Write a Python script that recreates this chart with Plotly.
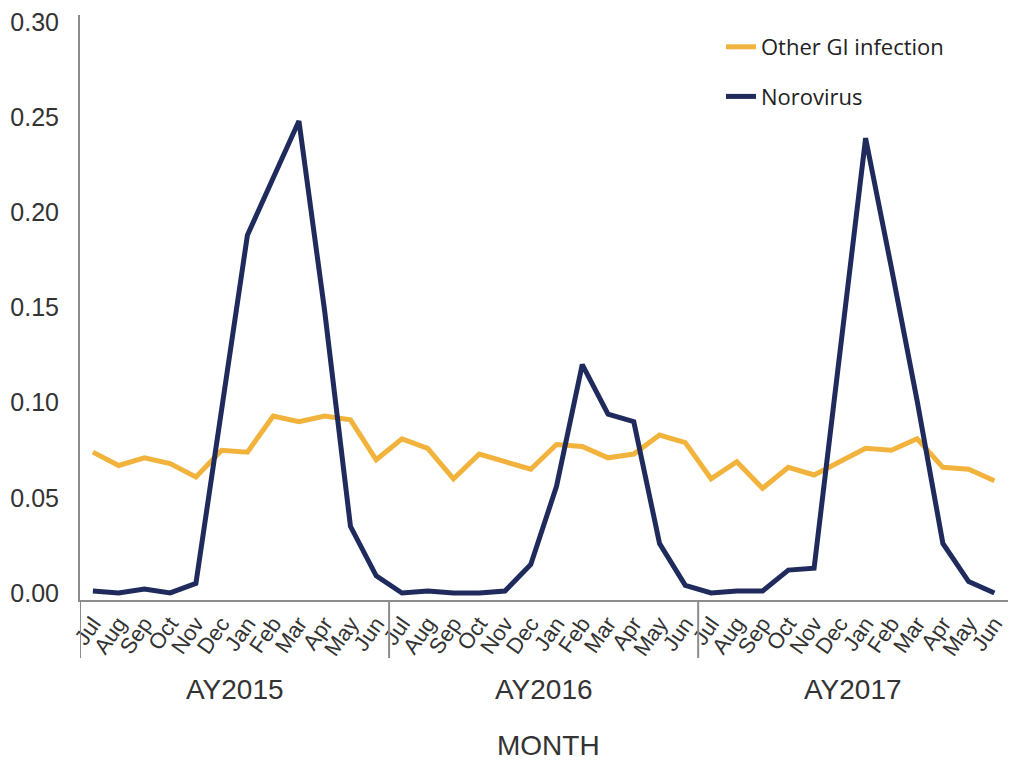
import plotly.graph_objects as go

months = ["Jul", "Aug", "Sep", "Oct", "Nov", "Dec", "Jan", "Feb", "Mar", "Apr", "May", "Jun"]
years = ["AY2015", "AY2016", "AY2017"]

other_gi = [
    0.074, 0.067, 0.071, 0.068, 0.061, 0.075, 0.074, 0.093, 0.090, 0.093, 0.091, 0.070,
    0.081, 0.076, 0.060, 0.073, 0.069, 0.065, 0.078, 0.077, 0.071, 0.073, 0.083, 0.079,
    0.060, 0.069, 0.055, 0.066, 0.062, 0.069, 0.076, 0.075, 0.081, 0.066, 0.065, 0.059,
]
norovirus = [
    0.001, 0.000, 0.002, 0.000, 0.005, 0.095, 0.188, 0.218, 0.248, 0.148, 0.035, 0.009,
    0.000, 0.001, 0.000, 0.000, 0.001, 0.015, 0.056, 0.120, 0.094, 0.090, 0.026, 0.004,
    0.000, 0.001, 0.001, 0.012, 0.013, 0.126, 0.239, 0.171, 0.101, 0.026, 0.006, 0.000,
]
y_ticks = [0.0, 0.05, 0.10, 0.15, 0.20, 0.25, 0.30]

n = len(months) * len(years)
xs = list(range(n))
tick_text = months * len(years)

ORANGE = "#f2b33d"
NAVY = "#1e2b5c"
AXIS = "#8c8c8c"
TXT = "#333333"

fig = go.Figure()
fig.add_trace(go.Scatter(x=xs, y=other_gi, mode="lines", name="Other GI infection",
                         line=dict(color=ORANGE, width=5), legendgroup="a"))
fig.add_trace(go.Scatter(x=xs, y=norovirus, mode="lines", name="Norovirus",
                         line=dict(color=NAVY, width=5), legendgroup="b"))

# page body has an 8px margin; work in page pixels
OFF = 8
W, H = 1016 - OFF, 760 - OFF
left_px, right_px, top_px, bot_px = 80, 1015, 15, 600
plot_h = bot_px - top_px

def ypaper(px):
    return (bot_px - px) / plot_h

# group separators
k = len(months)
seps = [-0.5] + [k * (i + 1) - 0.5 for i in range(len(years) - 1)]
for s in seps:
    fig.add_shape(type="line", xref="x", yref="paper", x0=s, x1=s,
                  y0=0, y1=ypaper(658), line=dict(color=AXIS, width=2))
fig.add_shape(type="line", xref="x", yref="paper", x0=35.8, x1=35.8,
              y0=0, y1=ypaper(610), line=dict(color=AXIS, width=2))

for i, yr in enumerate(years):
    fig.add_annotation(x=k * i + (k - 1) / 2, y=ypaper(690), xref="x", yref="paper",
                       xanchor="center", yanchor="middle",
                       text=yr, showarrow=False,
                       font=dict(family="Liberation Sans, Arial", size=28, color=TXT))

fig.add_annotation(x=(548 - left_px) / (right_px - left_px), y=ypaper(745),
                   xref="paper", yref="paper", xanchor="center", yanchor="middle",
                   text="MONTH", showarrow=False,
                   font=dict(family="Liberation Sans, Arial", size=28, color=TXT))

fig.update_layout(
    width=W, height=H,
    margin=dict(l=left_px - OFF, r=W - (right_px - OFF), t=top_px - OFF,
                b=H - (bot_px - OFF), autoexpand=False),
    paper_bgcolor="white", plot_bgcolor="white",
    showlegend=True,
    legend=dict(x=(721 - left_px) / (right_px - left_px), y=ypaper(26),
                xanchor="left", yanchor="top",
                font=dict(family="Open Sans", size=22, color="#222222"),
                tracegroupgap=18, bgcolor="rgba(0,0,0,0)"),
    xaxis=dict(range=[-0.5, 35.8], tickmode="array", tickvals=xs, ticktext=tick_text,
               tickangle=-55, showgrid=False, zeroline=False, showline=True,
               linecolor=AXIS, linewidth=2, ticks="", automargin=False,
               ticklabeloverflow="allow",
               tickfont=dict(family="Liberation Sans, Arial", size=22, color=TXT)),
    yaxis=dict(range=[-0.0037, 0.3037], tickmode="array", tickvals=y_ticks,
               ticktext=[f"{v:.2f}" for v in y_ticks], showgrid=False, zeroline=False,
               showline=True, linecolor=AXIS, linewidth=2, ticks="", automargin=False,
               ticklabelstandoff=14, ticklabeloverflow="allow",
               tickfont=dict(family="Liberation Sans, Arial", size=25, color=TXT)),
)

fig.write_html("out.html")
